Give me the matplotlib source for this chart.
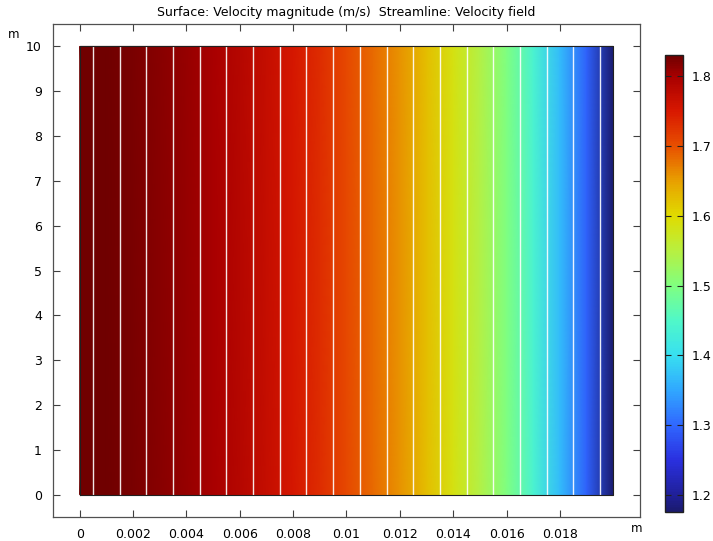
import numpy as np
import matplotlib
matplotlib.use("Agg")
import matplotlib.pyplot as plt
from matplotlib.colors import LinearSegmentedColormap

# Data
x_pos = [0.0, 0.001, 0.002, 0.003, 0.004, 0.005, 0.006, 0.007, 0.008, 0.009, 0.010,
         0.011, 0.012, 0.013, 0.014, 0.015, 0.016, 0.017, 0.018, 0.019, 0.020]
velocity = [1.830, 1.828, 1.823, 1.816, 1.808, 1.798, 1.786, 1.770, 1.752, 1.731, 1.707,
            1.684, 1.658, 1.625, 1.587, 1.545, 1.500, 1.440, 1.370, 1.295, 1.176]
y_extent = [0.0, 10.0]
streamline_x = [0.0005, 0.0015, 0.0025, 0.0035, 0.0045, 0.0055, 0.0065, 0.0075, 0.0085, 0.0095,
                0.0105, 0.0115, 0.0125, 0.0135, 0.0145, 0.0155, 0.0165, 0.0175, 0.0185, 0.0195]
x_ticks = [0, 0.002, 0.004, 0.006, 0.008, 0.01, 0.012, 0.014, 0.016, 0.018]
x_ticklabels = ["0", "0.002", "0.004", "0.006", "0.008", "0.01", "0.012", "0.014", "0.016", "0.018"]
y_ticks = [0, 1, 2, 3, 4, 5, 6, 7, 8, 9, 10]
cb_ticks = [1.2, 1.3, 1.4, 1.5, 1.6, 1.7, 1.8]
vmin, vmax = 1.176, 1.830

cmap = LinearSegmentedColormap.from_list("rainbow_comsol", [
    (0.000, "#1a1a6e"), (0.037, "#20209a"), (0.113, "#2a30e0"), (0.190, "#3068ff"),
    (0.266, "#30a8ff"), (0.343, "#38e0f0"), (0.419, "#50f8c8"), (0.495, "#80ff80"),
    (0.572, "#b8f040"), (0.648, "#e0dc00"), (0.725, "#e8a000"), (0.801, "#e85000"),
    (0.878, "#d81800"), (0.954, "#a80000"), (1.000, "#700000")])

fig = plt.figure(figsize=(7.13, 5.41), dpi=100)
ax = fig.add_axes([0.0743, 0.0444, 0.8233, 0.9112])

X, Y = np.meshgrid(np.array(x_pos), np.array(y_extent))
C = np.tile(np.array(velocity), (2, 1))
mesh = ax.pcolormesh(X, Y, C, shading="gouraud", cmap=cmap, vmin=vmin, vmax=vmax)

for sx in streamline_x:
    ax.plot([sx, sx], y_extent, color="white", lw=1.0, alpha=0.9)

ax.plot([x_pos[0], x_pos[-1], x_pos[-1], x_pos[0], x_pos[0]],
        [y_extent[0], y_extent[0], y_extent[1], y_extent[1], y_extent[0]],
        color="#202020", lw=0.8)

ax.set_xlim(-0.001, 0.021)
ax.set_ylim(-0.5, 10.5)
ax.set_xticks(x_ticks)
ax.set_xticklabels(x_ticklabels)
ax.set_yticks(y_ticks)
ax.tick_params(direction="in", length=5, width=0.8, top=True, right=True,
               labelsize=9, colors="#404040", labelcolor="black", pad=8)
for s in ax.spines.values():
    s.set_color("#505050")
    s.set_linewidth(0.9)

ax.set_title("Surface: Velocity magnitude (m/s)  Streamline: Velocity field", fontsize=9, pad=6)
fig.text(14 / 713, 1 - 35 / 541, "m", fontsize=8.5, ha="center", va="center")
fig.text(637 / 713, 1 - 529 / 541, "m", fontsize=8.5, ha="center", va="center")

cax = fig.add_axes([0.9327, 0.0536, 0.0252, 0.8447])
cb = fig.colorbar(mesh, cax=cax, ticks=cb_ticks)
cb.ax.tick_params(direction="in", length=4, width=0.8, left=True, right=True,
                  labelsize=9, colors="#202020", labelcolor="black", pad=6)
cb.outline.set_edgecolor("#202020")
cb.outline.set_linewidth(1.0)
cb.ax.set_yticklabels(["1.2", "1.3", "1.4", "1.5", "1.6", "1.7", "1.8"])

fig.savefig("out.png", dpi=100)
